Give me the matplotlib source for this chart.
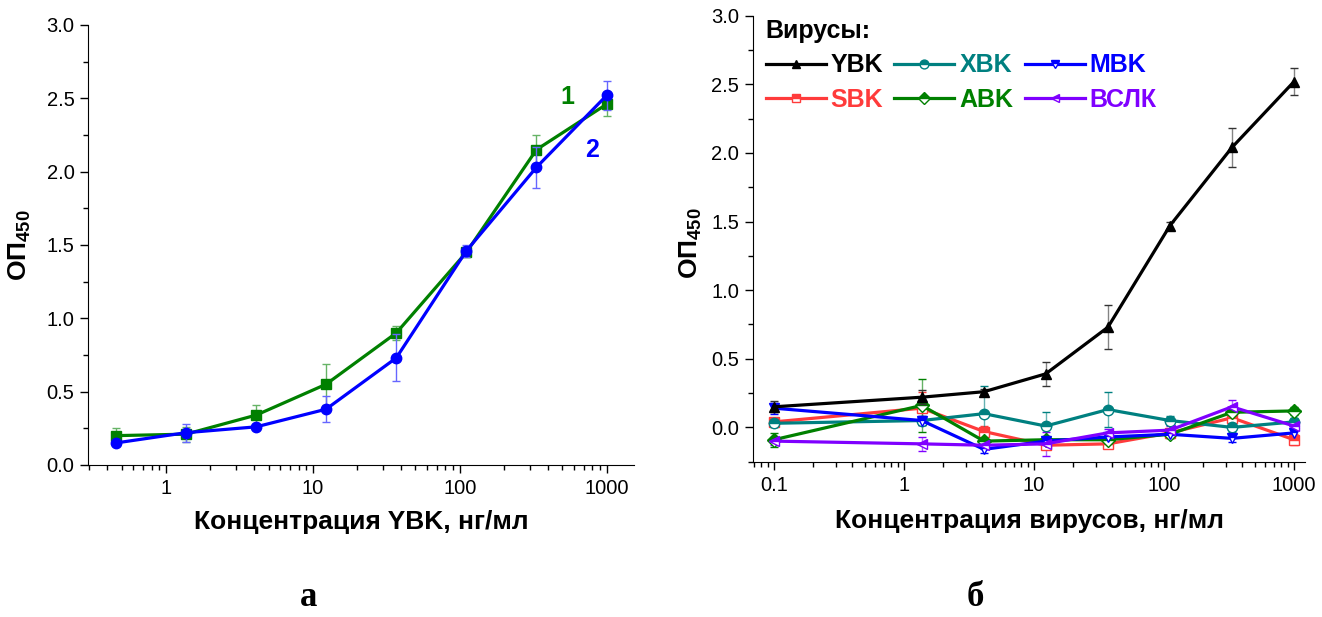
import numpy as np
import matplotlib.pyplot as plt
from matplotlib import ticker

plt.rcParams['font.family'] = ['Liberation Sans', 'DejaVu Sans']
plt.rcParams['mathtext.fontset'] = 'custom'
plt.rcParams['mathtext.rm'] = 'Liberation Sans'
plt.rcParams['mathtext.bf'] = 'Liberation Sans:bold'
plt.rcParams['mathtext.default'] = 'bf'

# panel a: YBK concentration, two curves
conc_a = [0.457, 1.37, 4.12, 12.3, 37.0, 111, 333, 1000]
od_1 = [0.20, 0.21, 0.34, 0.55, 0.90, 1.45, 2.15, 2.46]
err_1 = [0.05, 0.05, 0.07, 0.14, 0.05, 0.03, 0.10, 0.08]
od_2 = [0.15, 0.22, 0.26, 0.38, 0.73, 1.46, 2.03, 2.52]
err_2 = [0.02, 0.06, 0.02, 0.09, 0.16, 0.04, 0.14, 0.10]

# panel b: specificity against other viruses
conc_b = [0.1, 1.37, 4.12, 12.3, 37.0, 111, 333, 1000]
ybk = [0.15, 0.22, 0.26, 0.39, 0.73, 1.47, 2.04, 2.52]
ybk_err = [0.04, 0.05, 0.02, 0.09, 0.16, 0.03, 0.14, 0.10]
xbk = [0.03, 0.05, 0.10, 0.01, 0.13, 0.05, 0.00, 0.04]
xbk_err = [0.03, 0.03, 0.20, 0.10, 0.13, 0.03, 0.03, 0.03]
mbk = [0.14, 0.05, -0.16, -0.10, -0.07, -0.05, -0.08, -0.04]
mbk_err = [0.04, 0.03, 0.03, 0.03, 0.03, 0.03, 0.03, 0.03]
sbk = [0.04, 0.14, -0.03, -0.13, -0.12, -0.04, 0.07, -0.09]
sbk_err = [0.03, 0.12, 0.04, 0.03, 0.03, 0.03, 0.03, 0.04]
abk = [-0.09, 0.16, -0.10, -0.09, -0.09, -0.05, 0.11, 0.12]
abk_err = [0.05, 0.19, 0.03, 0.03, 0.03, 0.03, 0.03, 0.03]
bclk = [-0.10, -0.12, -0.13, -0.12, -0.04, -0.02, 0.15, 0.01]
bclk_err = [0.03, 0.05, 0.03, 0.09, 0.03, 0.03, 0.05, 0.03]

tick_fs = 14.5
label_fs = 19
leg_fs = 18

fig = plt.figure(figsize=(13.22, 6.17), dpi=100)
axa = fig.add_axes([0.0668, 0.2464, 0.4128, 0.7131])
axb = fig.add_axes([0.5696, 0.2517, 0.4176, 0.7229])


def style_axis(ax, ylo):
    ax.set_xscale('log')
    ax.spines['top'].set_visible(False)
    ax.spines['right'].set_visible(False)
    ax.yaxis.set_major_locator(ticker.MultipleLocator(0.5))
    ax.yaxis.set_minor_locator(ticker.MultipleLocator(0.25))
    ax.yaxis.set_major_formatter(ticker.FormatStrFormatter('%.1f'))
    ax.xaxis.set_major_formatter(ticker.FuncFormatter(lambda v, p: f'{v:g}'))
    ax.tick_params(which='major', length=6, width=1, labelsize=tick_fs, pad=4)
    ax.tick_params(which='minor', length=3.5, width=1)
    ax.set_ylim(ylo, 3.0)


# --- panel a
axa.errorbar(conc_a, od_1, yerr=err_1, color='#008000', lw=2.3, marker='s', ms=7,
             ecolor='#66b366', elinewidth=1, capsize=3, zorder=3)
axa.errorbar(conc_a, od_2, yerr=err_2, color='#0000ff', lw=2.3, marker='o', ms=7.5,
             ecolor='#6666ff', elinewidth=1, capsize=3, zorder=4)
style_axis(axa, 0.0)
axa.set_xlim(0.297, 1535)
axa.text(544, 2.51, '1', color='#008000', fontsize=18, fontweight='bold', ha='center', va='center')
axa.text(794, 2.15, '2', color='#0000ff', fontsize=18, fontweight='bold', ha='center', va='center')
axa.set_xlabel('Концентрация YBK, нг/мл', fontsize=label_fs, fontweight='bold')
axa.set_ylabel('ОП$_{450}$', fontsize=label_fs, fontweight='bold')
axa.xaxis.set_label_coords(0.5, -0.102)
axa.yaxis.set_label_coords(-0.101, 0.5)

# --- panel b
series = [
    ('YBK', ybk, ybk_err, 'black', '^', 'full'),
    ('SBK', sbk, sbk_err, '#ff3b3b', 's', 'top'),
    ('XBK', xbk, xbk_err, '#008080', 'o', 'top'),
    ('ABK', abk, abk_err, '#008000', 'D', 'top'),
    ('MBK', mbk, mbk_err, '#0000ff', 'v', 'top'),
    ('ВСЛК', bclk, bclk_err, '#7f00ff', '<', 'top'),
]
handles = []
labels = []
for name, vals, errs, col, mk, fs in series:
    z = 5 if name == 'YBK' else 3
    ec = '#333333' if name == 'YBK' else col
    h = axb.errorbar(conc_b, vals, yerr=errs, color=col, lw=2.3, marker=mk, ms=7.5,
                     fillstyle=fs, markerfacecoloralt='white', markeredgewidth=1,
                     ecolor=ec, elinewidth=1, capsize=3, zorder=z)
    h[2][0].set_alpha(0.6)
    handles.append(h[0])
    labels.append(name)

style_axis(axb, -0.25)
axb.set_xlim(0.069, 1215)
axb.set_xlabel('Концентрация вирусов, нг/мл', fontsize=label_fs, fontweight='bold')
axb.set_ylabel('ОП$_{450}$', fontsize=label_fs, fontweight='bold')
axb.xaxis.set_label_coords(0.5, -0.106)
axb.yaxis.set_label_coords(-0.088, 0.49)

# legend filled column-wise: rows YBK XBK MBK / SBK ABK ВСЛК
leg = axb.legend(handles, labels, ncol=3, loc='upper left', bbox_to_anchor=(0.0, 1.021),
                 frameon=False, fontsize=leg_fs, handlelength=2.4, handletextpad=0.2,
                 columnspacing=0.45, labelspacing=0.42, borderaxespad=0.1,
                 title='Вирусы:', alignment='left', markerscale=0.85,
                 title_fontproperties={'weight': 'bold', 'size': leg_fs})
for txt, (name, vals, errs, col, mk, fs) in zip(leg.get_texts(), series):
    txt.set_color(col)
    txt.set_fontweight('bold')

fig.text(309 / 1322, 1 - 598 / 617, 'а', fontsize=25, fontweight='bold',
         family='Liberation Serif', ha='center', va='center')
fig.text(975 / 1322, 1 - 598 / 617, 'б', fontsize=25, fontweight='bold',
         family='Liberation Serif', ha='center', va='center')

fig.savefig('out.png', dpi=100)
